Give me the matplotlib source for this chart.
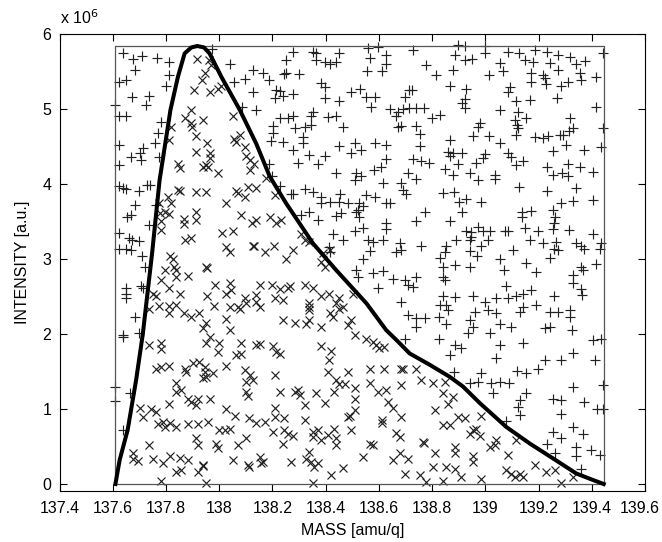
import numpy as np
import matplotlib
matplotlib.use('Agg')
import matplotlib.pyplot as plt
import matplotlib.transforms as mtransforms

# smooth boundary curve (mass, intensity in 1e6)
curve_pts = [(137.61, 0.0), (137.626, 0.32), (137.656, 0.72), (137.688, 1.39), (137.713, 2.0),
             (137.748, 3.08), (137.776, 4.05), (137.817, 4.99), (137.845, 5.43), (137.87, 5.74),
             (137.895, 5.82), (137.918, 5.84), (137.943, 5.82), (137.964, 5.74), (138.008, 5.43),
             (138.077, 4.99), (138.139, 4.54), (138.19, 4.10), (138.252, 3.74), (138.352, 3.21),
             (138.44, 2.85), (138.553, 2.41), (138.628, 2.05), (138.666, 1.92), (138.716, 1.74),
             (138.791, 1.59), (138.866, 1.43), (138.916, 1.30), (138.979, 1.08), (139.079, 0.76),
             (139.167, 0.54), (139.255, 0.34), (139.342, 0.14), (139.40, 0.06), (139.445, 0.0)]

# sampling box
box_x = [137.61, 139.445]
box_top = 5.84

# rejected samples (+)
plus_pts = [
    (137.638, 5.75), (137.678, 5.66), (137.711, 5.71), (137.767, 5.68), (137.811, 5.62), (137.682, 5.52),
    (137.811, 5.45), (137.799, 5.30), (137.648, 5.39), (137.623, 5.36), (137.673, 5.16), (137.738, 5.17),
    (137.726, 5.05), (137.607, 5.05), (137.623, 4.91), (137.651, 4.91), (137.782, 4.82), (137.770, 4.68),
    (137.757, 4.54), (137.623, 4.52), (137.713, 4.48), (137.701, 4.41), (137.669, 4.36), (137.707, 4.32),
    (137.623, 4.25), (137.775, 4.36), (137.974, 5.80), (138.042, 5.60), (138.127, 5.52), (138.164, 5.48),
    (138.187, 5.39), (138.096, 5.40), (138.054, 5.36), (138.127, 5.23), (138.208, 5.14), (138.215, 5.25),
    (138.087, 5.02), (138.139, 4.98), (138.202, 4.77), (138.202, 4.68), (138.193, 4.57), (138.187, 4.27),
    (138.200, 4.10),
    (138.279, 5.76), (138.252, 5.65), (138.352, 5.76), (138.364, 5.75), (138.364, 5.65), (138.396, 5.62),
    (138.415, 5.60), (138.440, 5.63), (138.452, 5.74), (138.242, 5.47), (138.252, 5.48), (138.299, 5.47),
    (138.383, 5.35), (138.396, 5.29), (138.396, 5.14), (138.452, 5.11), (138.227, 5.24), (138.239, 5.17),
    (138.279, 5.20), (138.496, 5.22), (138.530, 5.26), (138.552, 5.16), (138.584, 5.16), (138.571, 5.03),
    (138.559, 5.81), (138.596, 5.82), (138.628, 5.72), (138.565, 5.68), (138.628, 5.60), (138.555, 5.51),
    (138.613, 5.51), (138.728, 5.78), (138.778, 5.59), (138.715, 5.25), (138.725, 5.25), (138.697, 5.16),
    (138.640, 5.00), (138.671, 4.96), (138.690, 5.00), (138.715, 5.01), (138.740, 5.01), (138.768, 5.01),
    (138.665, 4.91), (138.671, 4.76), (138.684, 4.77), (138.740, 4.77), (138.755, 4.67), (138.755, 4.50),
    (138.800, 4.88), (138.227, 4.88), (138.258, 4.88), (138.279, 4.91), (138.283, 4.74), (138.314, 4.63),
    (138.324, 4.76), (138.346, 4.79), (138.346, 4.90), (138.352, 4.96), (138.408, 4.89), (138.440, 4.90),
    (138.467, 4.76), (138.239, 4.56), (138.277, 4.45), (138.314, 4.54), (138.337, 4.39), (138.396, 4.37),
    (138.371, 4.27), (138.296, 4.28), (138.452, 4.50), (138.496, 4.41), (138.512, 4.54), (138.534, 4.45),
    (138.584, 4.54), (138.625, 4.52), (138.625, 4.33), (138.580, 4.19), (138.609, 4.22), (138.440, 4.15),
    (138.515, 4.14), (138.534, 4.10), (138.709, 4.15), (138.728, 4.33), (138.759, 4.31), (138.790, 4.28),
    (138.898, 5.85), (138.923, 5.84), (138.998, 5.84), (138.885, 5.72), (138.923, 5.65), (138.951, 5.66),
    (138.998, 5.74), (139.085, 5.76), (139.127, 5.75), (139.148, 5.65), (139.186, 5.78), (139.180, 5.63),
    (139.230, 5.76), (139.273, 5.72), (139.317, 5.69), (139.342, 5.60), (139.374, 5.64), (139.242, 5.61),
    (139.443, 5.74), (138.879, 5.52), (138.813, 5.45), (139.014, 5.45), (139.054, 5.61), (139.067, 5.51),
    (139.173, 5.48), (139.173, 5.36), (139.217, 5.45), (139.223, 5.41), (139.273, 5.52), (139.311, 5.36),
    (139.286, 5.31), (139.355, 5.48), (139.358, 5.39), (139.415, 5.42), (139.227, 5.33), (138.869, 5.31),
    (138.926, 5.26), (139.092, 5.29), (139.086, 5.23), (138.923, 5.13), (138.923, 5.01), (138.914, 5.08),
    (139.114, 5.10), (139.167, 5.12), (139.270, 5.14), (139.415, 5.03), (139.054, 4.99), (139.123, 4.96),
    (139.154, 4.88), (138.829, 4.92), (138.979, 4.81), (138.973, 4.76), (139.111, 4.85), (139.120, 4.79),
    (139.123, 4.74), (139.117, 4.65), (138.954, 4.64), (139.014, 4.64), (139.054, 4.55), (139.317, 4.88),
    (139.330, 4.74), (139.315, 4.71), (139.292, 4.65), (139.280, 4.65), (139.236, 4.64), (139.186, 4.62),
    (139.215, 4.61), (139.443, 4.74), (138.869, 4.59), (138.860, 4.42), (138.879, 4.41), (138.914, 4.41),
    (138.869, 4.37), (138.998, 4.40), (138.992, 4.34), (138.966, 4.28), (139.085, 4.41), (139.098, 4.36),
    (139.142, 4.30), (139.117, 4.25), (139.255, 4.44), (139.305, 4.52), (139.370, 4.45), (139.433, 4.49),
    (138.847, 4.20), (138.879, 4.12), (138.898, 4.27), (138.941, 4.15), (139.035, 4.12), (139.230, 4.22),
    (139.255, 4.12), (139.290, 4.14), (139.311, 4.27), (139.311, 4.10), (139.355, 4.23), (139.405, 4.16),
    (137.623, 3.97), (137.638, 3.94), (137.651, 3.93), (137.698, 3.90), (137.728, 3.99), (137.741, 3.99),
    (137.682, 3.72), (137.653, 3.56), (137.669, 3.59), (137.738, 3.45), (137.763, 3.72), (137.623, 3.35),
    (137.661, 3.28), (137.698, 3.24), (137.673, 3.25), (137.623, 3.14), (137.648, 3.13), (137.669, 3.12),
    (137.711, 3.04), (137.723, 2.89), (137.651, 2.61), (137.651, 2.54), (137.651, 2.48), (137.707, 2.64),
    (137.713, 2.61), (137.682, 2.23), (137.638, 1.99), (137.698, 2.02),
    (138.227, 3.97), (138.270, 3.87), (138.279, 3.87), (138.321, 3.93), (138.352, 3.89), (138.383, 3.82),
    (138.383, 3.75), (138.415, 3.76), (138.455, 3.87), (138.452, 3.76), (138.484, 3.74), (138.527, 3.74),
    (138.540, 3.71), (138.552, 3.85), (138.587, 3.83), (138.512, 4.05), (138.615, 4.01), (138.628, 3.74),
    (138.640, 3.74), (138.684, 4.01), (138.690, 3.92), (138.703, 3.87), (138.740, 4.06), (138.308, 3.59),
    (138.339, 3.62), (138.371, 3.52), (138.440, 3.57), (138.458, 3.61), (138.515, 3.62), (138.527, 3.56),
    (138.521, 3.65), (138.628, 3.48), (138.628, 3.40), (138.740, 3.50), (138.772, 3.63), (138.427, 3.33),
    (138.467, 3.26), (138.512, 3.38), (138.542, 3.42), (138.559, 3.25), (138.577, 3.23), (138.615, 3.26),
    (138.565, 3.11), (138.678, 3.22), (138.684, 3.12), (138.665, 3.10), (138.759, 3.17), (138.412, 3.16),
    (138.415, 3.10), (138.540, 3.00), (138.515, 2.85), (138.521, 2.76), (138.577, 2.81), (138.615, 2.84),
    (138.653, 2.74), (138.697, 2.72), (138.709, 2.65), (138.728, 2.63), (138.740, 2.76), (138.596, 2.61),
    (138.684, 2.43), (138.709, 2.25), (138.740, 2.21), (138.740, 2.10), (138.772, 2.22),
    (138.841, 3.88), (138.881, 3.89), (138.901, 3.76), (138.926, 3.80), (138.914, 3.62), (138.985, 3.76),
    (138.973, 4.05), (139.035, 4.06), (139.127, 3.96), (139.230, 3.90), (139.342, 3.94), (139.330, 3.77),
    (139.286, 3.74), (139.403, 3.79), (139.139, 3.63), (139.139, 3.56), (139.173, 3.64), (139.255, 3.65),
    (139.261, 3.56), (139.257, 3.48), (139.255, 3.40), (138.869, 3.50), (138.929, 3.38), (138.948, 3.36),
    (138.973, 3.43), (138.948, 3.30), (138.992, 3.38), (139.017, 3.38), (139.073, 3.38), (139.085, 3.38),
    (139.148, 3.42), (139.198, 3.38), (139.315, 3.39), (139.403, 3.34), (138.889, 3.25), (138.941, 3.25),
    (139.010, 3.25), (139.167, 3.26), (139.217, 3.22), (139.267, 3.23), (139.257, 3.14), (139.273, 3.12),
    (139.342, 3.22), (139.361, 3.17), (139.370, 3.13), (139.436, 3.22), (139.430, 3.14), (138.854, 3.17),
    (138.847, 3.10), (138.829, 3.02), (138.941, 3.11), (138.969, 3.04), (138.985, 3.17), (139.104, 3.12),
    (139.054, 2.995), (139.242, 3.01), (138.841, 2.90), (138.885, 2.92), (138.941, 2.90), (139.069, 2.85),
    (139.154, 2.95), (139.190, 2.83), (139.361, 2.90), (139.415, 2.94), (139.330, 2.79), (139.367, 2.85),
    (138.841, 2.76), (138.847, 2.72), (139.077, 2.64), (139.173, 2.59), (139.142, 2.54), (139.117, 2.51),
    (139.330, 2.68), (139.361, 2.60), (139.365, 2.52), (139.257, 2.51), (138.841, 2.51), (138.885, 2.49),
    (138.954, 2.51), (138.998, 2.43), (139.042, 2.48), (139.085, 2.48), (138.829, 2.39), (138.854, 2.39),
    (138.860, 2.32), (138.826, 2.23), (138.854, 2.14), (138.960, 2.30), (139.010, 2.32), (139.042, 2.28),
    (139.054, 2.14), (138.941, 2.19), (138.954, 2.10), (139.129, 2.30), (139.142, 2.36), (139.192, 2.39),
    (139.242, 2.29), (139.273, 2.29), (139.317, 2.32), (139.317, 2.23), (139.098, 2.09), (139.223, 2.08),
    (139.242, 2.10), (139.324, 2.06),
    (137.638, 1.96), (137.663, 1.22), (137.638, 0.72), (137.610, 1.29), (137.610, 1.11),
    (138.697, 1.94), (138.826, 1.93), (138.885, 1.85), (138.910, 1.82), (138.869, 1.72), (138.881, 1.50),
    (138.935, 2.01), (139.017, 2.02), (139.054, 1.85), (139.042, 1.68), (139.142, 1.88), (139.223, 1.66),
    (139.286, 1.65), (139.330, 1.75), (139.411, 1.66), (139.403, 1.92), (139.436, 1.94), (138.941, 1.35),
    (138.973, 1.36), (138.985, 1.48), (139.023, 1.35), (139.054, 1.36), (139.089, 1.35), (139.029, 1.21),
    (139.119, 1.51), (139.154, 1.48), (139.198, 1.54), (139.154, 1.22), (139.129, 1.12), (139.123, 1.03),
    (139.129, 0.92), (139.255, 1.14), (139.286, 1.12), (139.286, 0.94), (139.330, 1.29), (139.370, 1.09),
    (139.418, 0.995), (139.443, 1.32), (139.443, 0.995), (139.079, 0.84), (139.230, 0.54), (139.255, 0.70),
    (139.286, 0.61), (139.330, 0.76), (139.367, 0.67), (139.342, 0.50), (139.342, 0.37), (139.399, 0.45),
    (139.430, 0.39), (139.361, 0.20), (139.261, 0.42),
]

# accepted samples (x)
cross_pts = [
    (137.918, 5.66), (137.963, 5.65), (137.969, 5.59), (137.948, 5.48), (137.935, 5.38), (137.906, 5.25),
    (137.964, 5.23), (137.995, 5.27), (138.008, 5.31), (137.895, 4.99), (137.870, 4.88), (137.895, 4.81),
    (137.899, 4.76), (137.939, 4.85), (137.820, 4.76), (137.813, 4.59), (137.911, 4.64), (137.954, 4.55),
    (138.052, 4.91), (138.054, 4.60), (138.079, 4.65), (138.064, 4.56), (138.096, 4.49), (138.099, 4.37),
    (138.114, 4.32), (138.129, 4.27), (138.114, 4.19), (137.911, 4.43), (137.964, 4.41), (137.966, 4.34),
    (137.951, 4.25), (137.958, 4.22), (137.939, 4.23), (137.995, 4.14), (137.845, 4.26), (137.854, 4.21),
    (138.175, 4.08),
    (137.773, 3.74), (137.807, 3.82), (137.820, 3.74), (137.811, 3.60), (137.776, 3.61), (137.795, 3.62),
    (137.845, 3.92), (137.851, 3.91), (137.911, 3.89), (137.951, 3.89), (137.911, 3.63), (137.911, 3.52),
    (137.866, 3.53), (137.866, 3.47), (137.782, 3.50), (137.782, 3.39), (137.870, 3.26), (137.895, 3.28),
    (138.024, 3.75), (138.062, 3.91), (138.070, 3.88), (138.108, 3.96), (138.096, 3.83), (138.139, 3.94),
    (138.083, 3.59), (138.124, 3.48), (138.139, 3.52), (138.190, 3.56), (138.212, 3.48), (138.012, 3.35),
    (138.052, 3.38), (138.024, 3.16), (138.039, 3.10), (138.127, 3.17), (138.130, 3.18), (138.171, 3.10),
    (138.205, 3.17), (138.208, 3.85), (137.817, 3.04), (137.826, 3.00), (137.795, 2.86), (137.832, 2.90),
    (137.839, 2.85), (137.839, 2.76), (137.882, 2.77), (137.951, 2.89), (137.953, 2.88), (137.782, 2.72),
    (137.811, 2.61), (137.851, 2.53), (137.954, 2.51), (137.983, 2.65), (138.039, 2.68), (138.045, 2.59),
    (138.027, 2.54), (138.096, 2.48), (138.139, 2.52), (138.152, 2.36), (138.154, 2.65), (138.200, 2.65),
    (138.208, 2.48), (138.139, 2.43), (138.070, 2.36), (138.077, 2.34), (137.751, 2.54), (137.763, 2.51),
    (137.738, 2.34), (137.773, 2.37), (137.811, 2.37), (137.811, 2.28), (137.836, 2.39), (137.866, 2.28),
    (137.895, 2.23), (137.926, 2.28), (137.951, 2.15), (137.939, 2.08), (137.979, 2.37), (138.024, 2.20),
    (138.039, 2.06), (138.039, 2.36), (138.099, 2.41),
    (138.233, 3.52), (138.277, 3.12), (138.252, 3.00), (138.308, 3.34), (138.321, 3.25), (138.339, 3.23),
    (138.389, 3.08), (138.415, 3.12), (138.383, 2.96), (138.396, 2.89), (138.227, 2.60), (138.258, 2.62),
    (138.267, 2.64), (138.239, 2.45), (138.324, 2.65), (138.352, 2.62), (138.383, 2.51), (138.412, 2.54),
    (138.339, 2.41), (138.339, 2.36), (138.339, 2.32), (138.452, 2.48), (138.440, 2.41), (138.452, 2.34),
    (138.465, 2.36), (138.502, 2.54), (138.415, 2.28), (138.427, 2.23), (138.239, 2.19), (138.283, 2.15),
    (138.327, 2.14), (138.339, 2.19), (138.383, 2.10), (138.483, 2.12), (138.496, 2.19),
    (137.738, 1.85), (137.782, 1.88), (137.782, 1.80), (137.763, 1.54), (137.782, 1.56), (137.811, 1.57),
    (137.870, 1.54), (137.876, 1.50), (137.901, 1.61), (137.926, 1.63), (137.945, 1.56), (137.945, 1.50),
    (137.951, 1.43), (137.939, 1.41), (137.964, 1.96), (137.951, 1.88), (138.001, 1.88), (137.995, 1.76),
    (138.083, 1.88), (138.064, 1.72), (138.083, 1.73), (138.139, 1.85), (138.152, 1.87), (138.027, 1.57),
    (137.976, 1.48), (138.096, 1.52), (138.114, 1.45), (138.127, 1.39), (138.102, 1.36), (138.102, 1.23),
    (138.108, 1.17), (137.839, 1.35), (137.857, 1.25), (137.839, 1.23), (137.882, 1.14), (137.895, 1.10),
    (137.920, 1.14), (137.914, 1.05), (137.964, 1.14), (137.811, 1.07), (137.701, 1.01), (137.713, 0.89),
    (137.745, 0.998), (137.763, 0.96), (137.770, 0.80), (137.788, 0.83), (137.795, 0.76), (137.814, 0.81),
    (137.839, 0.76), (137.882, 0.80), (137.920, 0.80), (137.958, 0.83), (138.027, 0.997), (138.058, 0.91),
    (138.112, 0.88), (138.139, 0.81), (138.171, 0.83), (137.914, 0.61), (137.920, 0.52), (137.989, 0.54),
    (138.001, 0.72), (138.020, 0.72), (138.039, 0.73), (137.995, 0.48), (138.070, 0.52), (138.102, 0.61),
    (137.738, 0.52), (137.676, 0.41), (137.695, 0.31), (137.676, 0.33), (137.751, 0.33), (137.788, 0.28),
    (137.814, 0.37), (137.851, 0.35), (137.882, 0.32), (137.839, 0.16), (137.857, 0.19), (137.920, 0.16),
    (137.939, 0.25), (137.941, 0.24), (137.782, 0.04), (137.951, 0.009), (138.052, 0.32), (138.108, 0.25),
    (138.112, 0.23), (138.152, 0.36), (138.158, 0.28), (138.164, 0.30),
    (138.202, 1.84), (138.214, 1.76), (138.227, 1.73), (138.208, 1.45), (138.227, 1.23), (138.208, 1.02),
    (138.208, 0.89), (138.245, 0.88), (138.202, 0.70), (138.245, 0.72), (138.258, 0.67), (138.239, 0.54),
    (138.277, 0.64), (138.270, 0.30), (138.283, 1.23), (138.296, 1.25), (138.302, 1.19), (138.321, 1.05),
    (138.364, 1.21), (138.396, 1.08), (138.383, 1.84), (138.421, 1.78), (138.412, 1.66), (138.408, 1.50),
    (138.440, 1.39), (138.452, 1.34), (138.471, 1.34), (138.433, 1.23), (138.483, 1.50), (138.509, 1.28),
    (138.509, 1.13), (138.509, 0.99), (138.490, 0.91), (138.483, 0.89), (138.496, 0.72), (138.321, 0.85),
    (138.352, 0.70), (138.352, 0.63), (138.371, 0.72), (138.383, 0.59), (138.408, 0.65), (138.433, 0.74),
    (138.440, 0.61), (138.440, 0.52), (138.339, 0.43), (138.327, 0.34), (138.346, 0.30), (138.371, 0.28),
    (138.358, 0.23), (138.421, 0.12), (138.465, 0.21), (138.352, 0.009), (138.509, 1.99), (138.552, 1.93),
    (138.577, 1.90), (138.590, 1.85), (138.602, 1.81), (138.621, 1.83), (138.565, 1.54), (138.621, 1.53),
    (138.565, 1.35), (138.596, 1.23), (138.628, 1.26), (138.634, 1.10), (138.653, 1.01), (138.684, 0.90),
    (138.684, 1.54), (138.690, 1.53), (138.740, 1.54), (138.684, 1.32), (138.759, 1.39), (138.613, 0.85),
    (138.613, 0.81), (138.565, 0.54), (138.577, 0.52), (138.540, 0.36), (138.665, 0.68), (138.678, 0.63),
    (138.653, 0.32), (138.678, 0.41), (138.709, 0.34), (138.697, 0.13), (138.765, 0.56), (138.768, 0.55),
    (138.753, 0.12), (138.778, 0.03),
    (138.804, 1.35), (138.847, 1.36), (138.841, 1.22), (138.879, 1.16), (138.860, 1.07), (138.810, 0.99),
    (138.841, 0.79), (138.866, 0.79), (138.898, 0.89), (138.923, 0.88), (138.985, 0.91), (138.966, 0.74),
    (138.941, 0.67), (138.979, 0.64), (138.954, 0.72), (139.017, 0.50), (139.042, 0.59), (139.035, 0.52),
    (139.117, 0.59), (139.085, 0.39), (138.810, 0.41), (138.885, 0.41), (138.885, 0.50), (138.954, 0.37),
    (138.954, 0.30), (138.804, 0.23), (138.854, 0.23), (138.885, 0.20), (138.910, 0.10), (138.841, 0.044),
    (138.985, 0.062), (139.079, 0.19), (139.098, 0.13), (139.111, 0.10), (139.142, 0.10), (139.129, 0.13),
    (139.186, 0.25), (139.227, 0.16), (139.261, 0.19), (139.286, 0.009), (139.330, 0.098),
]

x_ticks = [137.4, 137.6, 137.8, 138.0, 138.2, 138.4, 138.6, 138.8, 139.0, 139.2, 139.4, 139.6]
x_tick_labels = ['137.4', '137.6', '137.8', '138', '138.2', '138.4', '138.6', '138.8', '139', '139.2', '139.4', '139.6']
y_ticks = [0, 1, 2, 3, 4, 5, 6]

plt.rcParams['font.family'] = ['Liberation Sans', 'DejaVu Sans']

curve = np.array(curve_pts)
plus = np.array(plus_pts)
cross = np.array(cross_pts)

fig = plt.figure(figsize=(6.62, 5.42), dpi=100)
ax = fig.add_axes([0.0899, 0.0941, 0.8844, 0.8432])

mcol = '#222222'
ax.plot(plus[:, 0], plus[:, 1], linestyle='none', marker='+', markersize=7.5,
        markeredgewidth=0.85, color=mcol)
ax.plot(cross[:, 0], cross[:, 1], linestyle='none', marker='x', markersize=6.3,
        markeredgewidth=0.85, color=mcol)

# box around the sampling region
ax.plot([box_x[0], box_x[0], box_x[1], box_x[1], box_x[0]], [0, box_top, box_top, 0, 0],
        color='#555555', linewidth=0.9)

ax.plot(curve[:, 0], curve[:, 1], color='black', linewidth=2.9, solid_joinstyle='round')

ax.set_xlim(137.4, 139.6)
ax.set_ylim(-0.093, 6)
ax.set_xticks(x_ticks)
ax.set_xticklabels(x_tick_labels)
ax.set_yticks(y_ticks)
ax.tick_params(direction='in', top=True, right=True, length=5, width=0.8, labelsize=11.5)
ax.tick_params(axis='x', pad=7)
ax.tick_params(axis='y', pad=6)
for s in ax.spines.values():
    s.set_linewidth(0.8)

# last tick label sits against the figure edge; nudge it inside
last = ax.get_xticklabels()[-1]
last.set_transform(last.get_transform() + mtransforms.ScaledTranslation(-4 / 72, 0, fig.dpi_scale_trans))

ax.set_xlabel('MASS [amu/q]', fontsize=11.5, labelpad=5)
ax.set_ylabel('INTENSITY [a.u.]', fontsize=11.5, labelpad=9)
ax.text(0.0, 1.015, 'x 10$^{6}$', transform=ax.transAxes, fontsize=11.5, ha='left', va='bottom')

fig.savefig('out.png', dpi=100)
